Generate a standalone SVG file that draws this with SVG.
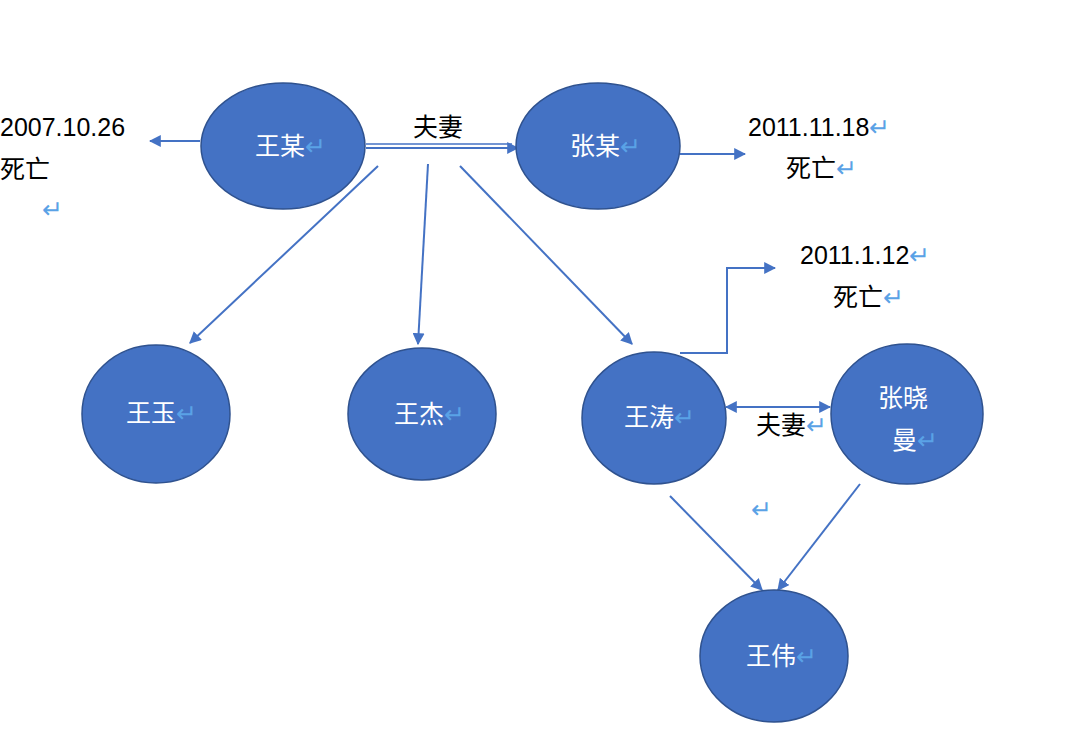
<svg xmlns="http://www.w3.org/2000/svg" width="1080" height="746" viewBox="0 0 1080 746">
<style>
.n{fill:#4472c4;stroke:#2f528f;stroke-width:1.5}
.w{fill:#fff;font-family:"Noto Sans CJK SC","Liberation Sans",sans-serif;font-size:25px}
.b{fill:#000;font-family:"Liberation Sans","Noto Sans CJK SC",sans-serif;font-size:25px}
.r{fill:#5aa2e6}
.c{stroke:#4472c4;stroke-width:2;fill:none;marker-end:url(#a)}
</style>
<defs>
<marker id="a" viewBox="0 0 10 10" refX="9" refY="5" markerWidth="6" markerHeight="6" orient="auto-start-reverse"><path d="M0,0L10,5L0,10z" fill="#4472c4"/></marker>
</defs>
<rect width="1080" height="746" fill="#fff"/>
<g id="connectors">
<line class="c" x1="200" y1="141" x2="150" y2="141"/>
<line x1="366" y1="144" x2="512" y2="144" stroke="#4472c4" stroke-width="1.5"/>
<line class="c" x1="366" y1="148" x2="518" y2="148"/>
<line class="c" x1="680" y1="154" x2="745" y2="154"/>
<line class="c" x1="378" y1="166" x2="190" y2="343"/>
<line class="c" x1="428" y1="164" x2="418" y2="344"/>
<line class="c" x1="460" y1="166" x2="632" y2="344"/>
<polyline class="c" points="680,353 727,353 727,268 775,268"/>
<line class="c" x1="726" y1="407" x2="830" y2="407" marker-start="url(#a)"/>
<line class="c" x1="670" y1="496" x2="762" y2="590"/>
<line class="c" x1="860" y1="484" x2="778" y2="590"/>
</g>
<g id="n1"><ellipse class="n" cx="283" cy="146" rx="82" ry="63"/><text class="w" x="255" y="155">王某<tspan class="r">↵</tspan></text></g>
<g id="n2"><ellipse class="n" cx="598" cy="146" rx="82" ry="63"/><text class="w" x="570" y="155">张某<tspan class="r">↵</tspan></text></g>
<g id="n3"><ellipse class="n" cx="156" cy="414" rx="74" ry="69"/><text class="w" x="126" y="422">王玉<tspan class="r">↵</tspan></text></g>
<g id="n4"><ellipse class="n" cx="422" cy="414" rx="74" ry="66"/><text class="w" x="394" y="423">王杰<tspan class="r">↵</tspan></text></g>
<g id="n5"><ellipse class="n" cx="654" cy="418" rx="72" ry="66"/><text class="w" x="624" y="426">王涛<tspan class="r">↵</tspan></text></g>
<g id="n6"><ellipse class="n" cx="907" cy="414" rx="76" ry="70"/><text class="w" x="878" y="407">张晓</text><text class="w" x="892" y="449">曼<tspan class="r">↵</tspan></text></g>
<g id="n7"><ellipse class="n" cx="774" cy="656" rx="74" ry="66"/><text class="w" x="746" y="665">王伟<tspan class="r">↵</tspan></text></g>
<g id="labels">
<text class="b" x="0" y="136">2007.10.26</text>
<text class="b" x="0" y="178">死亡</text>
<text class="b r" x="42" y="218" font-size="20">↵</text>
<text class="b" x="413" y="136">夫妻</text>
<text class="b" x="748" y="136">2011.11.18<tspan class="r">↵</tspan></text>
<text class="b" x="786" y="177">死亡<tspan class="r">↵</tspan></text>
<text class="b" x="800" y="264">2011.1.12<tspan class="r">↵</tspan></text>
<text class="b" x="833" y="306">死亡<tspan class="r">↵</tspan></text>
<text class="b" x="756" y="434">夫妻<tspan class="r">↵</tspan></text>
<text class="b r" x="751" y="518" font-size="20">↵</text>
</g>
</svg>
